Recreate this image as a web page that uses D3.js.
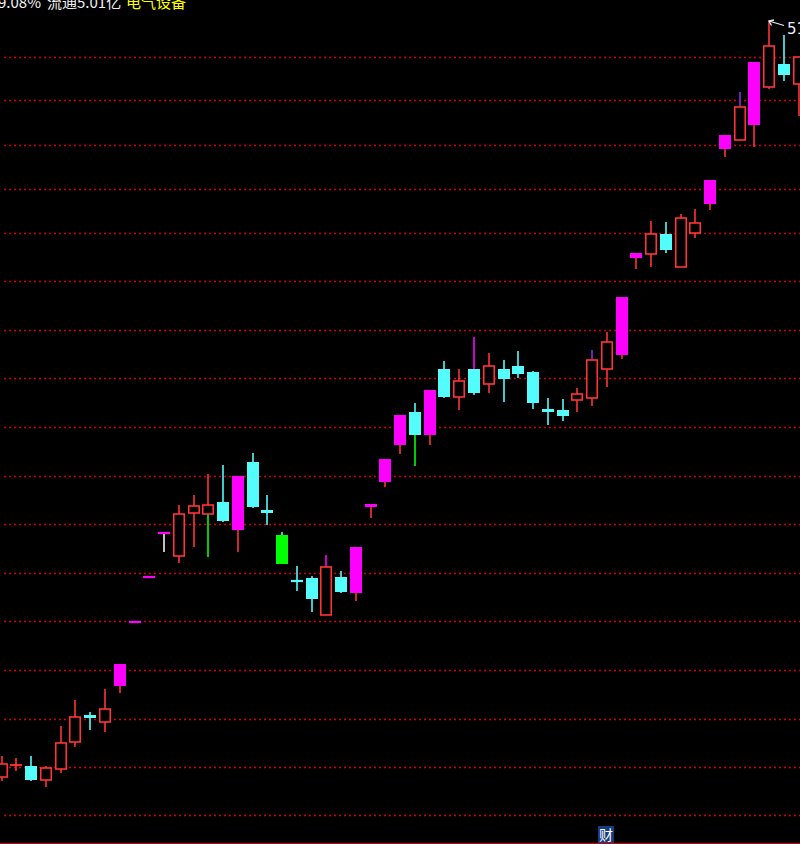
<!DOCTYPE html>
<html>
<head>
<meta charset="utf-8">
<script src="https://cdn.jsdelivr.net/npm/d3@7"></script>
<style>
  html, body { margin: 0; padding: 0; background: #000; overflow: hidden; }
  svg { display: block; }
</style>
</head>
<body>
<svg id="chart" width="800" height="844"></svg>
<script>
// ---- data ----
const kinds = ["u","u","d","u","u","u","d","u","m","m","m","m","u","u","u","d","m","d","d","g",
               "d","d","u","d","m","m","m","m","d","m","d","u","d","u","d","d","d","d","d","u",
               "u","u","m","m","u","d","u","u","m","m","u","m","u","d","u"];
const opens  = [43.88,44.00,43.99,43.85,43.96,44.23,44.50,44.43,44.79,45.43,45.88,46.32,46.09,46.52,46.51,46.63,46.35,47.03,46.55,46.30,
                45.85,45.87,45.50,45.88,45.72,46.58,46.83,47.20,47.53,47.30,47.96,47.68,47.96,47.81,47.96,47.99,47.93,47.56,47.55,47.65,
                47.67,47.96,48.10,49.07,49.11,49.31,48.98,49.32,49.61,50.16,50.25,50.40,50.78,51.01,50.81];
const highs  = [44.09,44.07,44.09,43.99,44.39,44.65,44.53,44.76,45.01,45.43,45.88,46.32,46.60,46.70,46.91,47.00,46.89,47.12,46.70,46.33,
                45.99,45.89,46.10,45.94,46.18,46.61,47.06,47.50,47.62,47.75,48.04,47.96,48.28,48.12,48.05,48.14,47.94,47.67,47.66,47.77,
                48.15,48.33,48.68,49.12,49.44,49.43,49.51,49.56,49.85,50.30,50.73,51.03,51.44,51.30,51.08];
const lows   = [43.84,43.94,43.84,43.78,43.92,44.18,44.35,44.33,44.72,45.43,45.88,46.13,46.02,46.18,46.08,46.43,46.13,46.57,46.40,46.01,
                45.74,45.53,45.50,45.72,45.64,46.47,46.78,47.11,46.99,47.20,47.67,47.55,47.70,47.72,47.63,47.87,47.56,47.40,47.44,47.53,
                47.59,47.78,48.06,48.96,48.98,49.12,48.98,49.27,49.55,50.08,50.25,50.18,50.76,50.84,50.49];
const closes = [44.01,44.00,43.85,43.97,44.22,44.48,44.47,44.56,45.01,45.43,45.88,46.32,46.51,46.59,46.60,46.44,46.89,46.58,46.52,46.01,
                45.83,45.66,45.98,45.73,46.18,46.61,47.06,47.50,47.30,47.75,47.68,47.84,47.72,47.99,47.86,47.91,47.62,47.53,47.49,47.71,
                48.05,48.23,48.68,49.12,49.31,49.15,49.47,49.42,49.85,50.30,50.58,51.03,51.19,50.90,51.08];
// signal-coloured wick segments: [bar number, signal]
const upperWickSignals = [[23,"m"],[33,"m"],[41,"p"],[51,"p"]];
const lowerWickSignals = [[12,"w"],[15,"g"],[29,"g"]];
// price grid lines
const gridPrices = [51.08,50.65,50.20,49.76,49.32,48.84,48.35,47.87,47.38,46.89,46.41,45.92,45.44,44.95,44.46,43.98,43.50];
// header texts
const headerParts = [["9.08%", "w"], ["流通5.01亿", "w"], ["电气设备", "y"]];
const footerTag = "财";

// ---- styles ----
const C = { u: "#ff3434", d: "#54fcfc", m: "#ff00ff", g: "#00ff00", p: "#8a2be2", w: "#f0f0f0", y: "#ffff00" };
const W = 800, H = 844;

const bars = d3.range(opens.length);
const x = d3.scalePoint().domain(bars).range([1.7, 798.7]);
const y = d3.scaleLinear().domain([43.5, 51.65]).range([815, 0]);

const svg = d3.select("#chart");
svg.append("rect").attr("width", W).attr("height", H).attr("fill", "#000");

// grid
svg.append("g").selectAll("line").data(gridPrices).join("line")
  .attr("x1", 4).attr("x2", W)
  .attr("y1", d => Math.round(y(d)) + 0.5).attr("y2", d => Math.round(y(d)) + 0.5)
  .attr("stroke", "#d80000").attr("stroke-width", 1.4)
  .attr("stroke-dasharray", "2,3");

// bottom border
svg.append("line").attr("x1", 0).attr("x2", W).attr("y1", 843.5).attr("y2", 843.5)
  .attr("stroke", "#c80000").attr("stroke-width", 1);

const upSig = new Map(upperWickSignals.map(([i, s]) => [i - 1, s]));
const loSig = new Map(lowerWickSignals.map(([i, s]) => [i - 1, s]));
const defUpper = { u: "u", d: "d", m: "m", g: "d" };
const defLower = { u: "u", d: "d", m: "u", g: "g" };

const g = svg.append("g");
const bw = 12;
bars.forEach(i => {
  const k = kinds[i];
  const cx = Math.round(x(i));
  const yt = y(Math.max(opens[i], closes[i]));
  const yb = y(Math.min(opens[i], closes[i]));
  const yh = y(highs[i]);
  const yl = y(lows[i]);
  const upC = C[upSig.get(i) || defUpper[k]];
  const loC = C[loSig.get(i) || defLower[k]];
  // wicks
  if (yt - yh > 0.5)
    g.append("line").attr("x1", cx).attr("x2", cx).attr("y1", yh).attr("y2", yt)
      .attr("stroke", upC).attr("stroke-width", 1.6);
  if (yl - yb > 0.5)
    g.append("line").attr("x1", cx).attr("x2", cx).attr("y1", yb).attr("y2", yl)
      .attr("stroke", loC).attr("stroke-width", 1.6);
  // body
  const h = Math.max(yb - yt, 0);
  const left = cx - bw / 2;
  if (k === "u") {
    if (h < 2) {
      g.append("line").attr("x1", left).attr("x2", left + bw).attr("y1", yt).attr("y2", yt)
        .attr("stroke", C.u).attr("stroke-width", 1.8);
    } else {
      g.append("rect").attr("x", left + 0.75).attr("y", yt).attr("width", bw - 1.5).attr("height", h)
        .attr("fill", "#000").attr("stroke", C.u).attr("stroke-width", 1.6);
    }
  } else {
    const hh = Math.max(h, 2.2);
    g.append("rect").attr("x", left).attr("y", h < 2.2 ? (yt + yb) / 2 - 1.1 : yt)
      .attr("width", bw).attr("height", hh).attr("fill", C[k]);
  }
});

// highest-price marker
const iMax = d3.maxIndex(highs);
const hx = Math.round(x(iMax)), hy = y(highs[iMax]);
const mark = svg.append("g").attr("stroke", "#e8eef8").attr("stroke-width", 1.3).attr("fill", "none");
mark.append("path").attr("d", `M${hx + 15},${hy + 4.5} L${hx},${hy}`);
mark.append("path").attr("d", `M${hx + 5},${hy - 1} L${hx},${hy} L${hx + 2.5},${hy + 4.5}`);
svg.append("text").attr("x", hx + 18).attr("y", hy + 12.5)
  .attr("font-family", "DejaVu Sans, sans-serif").attr("font-size", 15)
  .attr("fill", "#e8eef8").text(d3.format(".2f")(highs[iMax]));

// header text
const hdr = svg.append("text").attr("y", 7.5)
  .attr("font-family", "'Noto Sans CJK SC', sans-serif").attr("font-size", 15);
const hdrX = [-2, 47, 126];
headerParts.forEach(([t, c], j) => {
  hdr.append("tspan").attr("x", hdrX[j]).attr("fill", C[c]).text(t);
});

// footer tag
svg.append("rect").attr("x", 598).attr("y", 826).attr("width", 16).attr("height", 17).attr("fill", "#173c80");
svg.append("text").attr("x", 606).attr("y", 840).attr("text-anchor", "middle")
  .attr("font-family", "'Noto Sans CJK SC', sans-serif").attr("font-size", 14)
  .attr("fill", "#ffffff").text(footerTag);
</script>
</body>
</html>
